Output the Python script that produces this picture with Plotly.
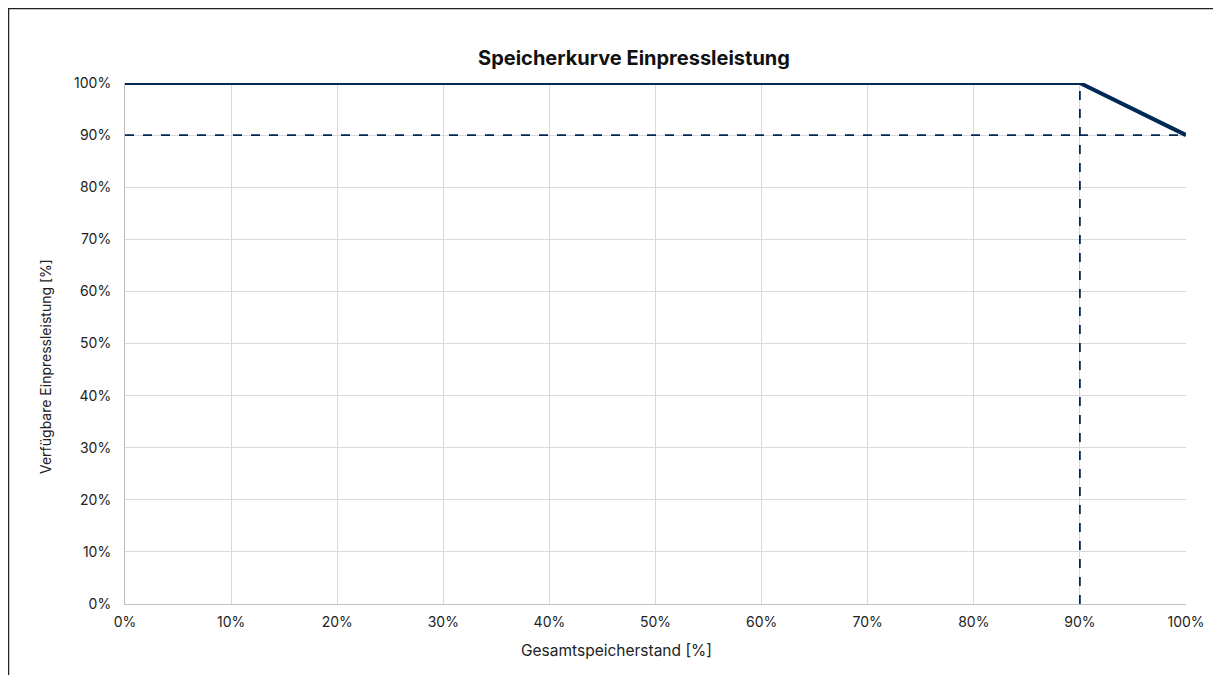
import plotly.graph_objects as go

x_curve = [0, 90, 100]
y_curve = [100, 100, 90]
h_ref_x = [0, 100]
h_ref_y = [90, 90]
v_ref_x = [90, 90]
v_ref_y = [0, 100]
tick_vals = [0, 10, 20, 30, 40, 50, 60, 70, 80, 90, 100]
tick_text = [f"{v}%" for v in tick_vals]

navy = "#002855"
fig = go.Figure()
fig.add_trace(go.Scatter(x=h_ref_x, y=h_ref_y, mode="lines",
                         line=dict(color=navy, width=1.8, dash="dash"), showlegend=False))
fig.add_trace(go.Scatter(x=v_ref_x, y=v_ref_y, mode="lines",
                         line=dict(color=navy, width=1.8, dash="dash"), showlegend=False))
fig.add_trace(go.Scatter(x=x_curve, y=y_curve, mode="lines",
                         line=dict(color=navy, width=4), showlegend=False))

font_fam = "Inter, Roboto, sans-serif"
L, T, PW, PH = 117, 75, 1061, 521
fig.update_layout(
    width=1221, height=675,
    margin=dict(l=L, r=1221 - L - PW, t=T, b=675 - T - PH),
    paper_bgcolor="white", plot_bgcolor="white",
    font=dict(family=font_fam, size=14, color="#222222"),
    title=dict(text="<b>Speicherkurve Einpressleistung</b>", x=(634 - 8) / 1221, xanchor="center",
               y=1 - 50 / 675, yanchor="middle", font=dict(size=20, color="#111111")),
    xaxis=dict(range=[0, 100], tickvals=tick_vals, ticktext=tick_text,
               showgrid=True, gridcolor="#d9d9d9", gridwidth=1,
               showline=True, linecolor="#bfbfbf", linewidth=1,
               zeroline=False, ticks="outside", ticklen=5, tickcolor="rgba(0,0,0,0)"),
    yaxis=dict(range=[0, 100], tickvals=tick_vals, ticktext=tick_text,
               showgrid=True, gridcolor="#d9d9d9", gridwidth=1,
               showline=True, linecolor="#bfbfbf", linewidth=1,
               zeroline=False, ticks="outside", ticklen=10, tickcolor="rgba(0,0,0,0)"),
    annotations=[
        dict(text="Gesamtspeicherstand [%]", xref="paper", yref="paper",
             x=(608 - L) / PW, y=1 - (642 - T) / PH, xanchor="center", yanchor="middle",
             showarrow=False, font=dict(size=15.5, color="#222222")),
        dict(text="Verfügbare Einpressleistung [%]", xref="paper", yref="paper",
             x=(37 - L) / PW, y=1 - (359 - T) / PH, xanchor="center", yanchor="middle",
             textangle=-90, showarrow=False, font=dict(size=14, color="#222222")),
    ],
)
fig.add_shape(type="rect", xref="paper", yref="paper",
              x0=-L / PW, x1=1.2, y0=-0.4, y1=1 + T / PH,
              line=dict(color="#222222", width=2.5), fillcolor="rgba(0,0,0,0)", layer="below")
fig.write_html("out.html")
